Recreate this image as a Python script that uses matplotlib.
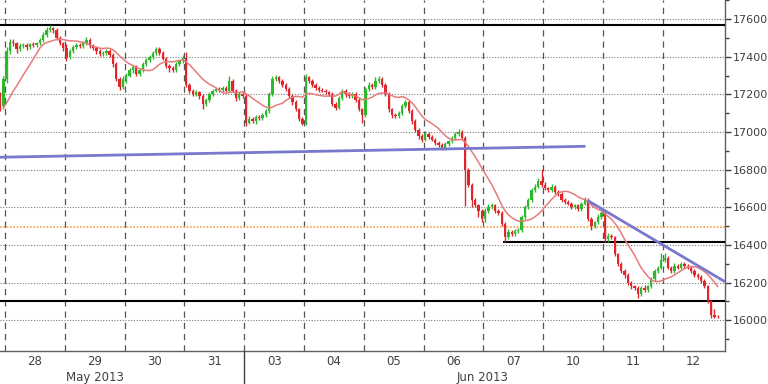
import numpy as np
import pandas as pd
import matplotlib
matplotlib.use('Agg')
import matplotlib.pyplot as plt
from matplotlib.ticker import MultipleLocator
from matplotlib.lines import Line2D

# ---------------- data ----------------
open_first = 17190
ma_warmup = [17100, 17110, 17090, 17120, 17110, 17100, 17120, 17130, 17110, 17120]

close_pre = [17140, 17280]
up_pre = [20, 15]
dn_pre = [30, 20]

close_28 = [17430, 17480, 17470, 17440, 17455, 17460, 17450, 17465, 17460, 17470, 17490, 17515, 17540, 17550, 17540, 17500, 17470, 17445]
up_28 = [20, 15, 15, 10, 15, 10, 10, 10, 15, 10, 10, 15, 15, 20, 10, 10, 10, 10]
dn_28 = [20, 15, 15, 20, 10, 10, 15, 10, 10, 10, 10, 10, 10, 10, 15, 10, 10, 15]

close_29 = [17400, 17430, 17450, 17460, 17455, 17470, 17490, 17455, 17445, 17430, 17415, 17420, 17430, 17410, 17360, 17280, 17240, 17280]
up_29 = [20, 10, 10, 10, 10, 15, 15, 10, 10, 10, 10, 10, 10, 10, 10, 10, 10, 20]
dn_29 = [25, 10, 10, 10, 10, 10, 10, 10, 10, 15, 10, 10, 10, 10, 15, 10, 15, 10]

close_30 = [17300, 17330, 17345, 17310, 17330, 17360, 17380, 17400, 17420, 17440, 17420, 17390, 17350, 17340, 17330, 17360, 17375, 17395]
up_30 = [15, 10, 10, 10, 10, 10, 15, 10, 10, 10, 10, 10, 10, 10, 10, 10, 10, 15]
dn_30 = [20, 10, 15, 15, 10, 10, 10, 10, 10, 10, 10, 10, 10, 20, 10, 10, 10, 10]

close_31 = [17250, 17220, 17200, 17210, 17190, 17150, 17170, 17200, 17220, 17230, 17225, 17235, 17220, 17270, 17220, 17180, 17200, 17190]
up_31 = [30, 10, 10, 15, 10, 10, 10, 10, 10, 10, 10, 10, 10, 25, 10, 10, 10, 10]
dn_31 = [10, 15, 10, 10, 15, 30, 10, 10, 10, 10, 10, 10, 10, 10, 10, 15, 10, 10]

close_03 = [17050, 17070, 17060, 17080, 17075, 17090, 17110, 17200, 17280, 17290, 17270, 17250, 17230, 17190, 17160, 17120, 17070, 17045]
up_03 = [10, 15, 10, 10, 10, 10, 10, 10, 15, 15, 10, 10, 10, 10, 10, 10, 10, 10]
dn_03 = [20, 10, 10, 15, 10, 10, 10, 10, 10, 10, 10, 10, 10, 10, 15, 10, 10, 10]

close_04 = [17290, 17270, 17250, 17235, 17225, 17220, 17210, 17200, 17150, 17130, 17180, 17220, 17200, 17190, 17200, 17170, 17120, 17090]
up_04 = [20, 10, 10, 10, 10, 10, 10, 10, 10, 10, 10, 10, 10, 10, 10, 10, 10, 10]
dn_04 = [10, 10, 10, 10, 10, 10, 10, 10, 10, 15, 10, 10, 15, 10, 10, 10, 10, 40]

close_05 = [17230, 17250, 17240, 17270, 17280, 17250, 17200, 17120, 17090, 17085, 17100, 17140, 17160, 17110, 17060, 17010, 16980, 16960]
up_05 = [10, 15, 10, 20, 15, 10, 10, 10, 10, 10, 10, 10, 10, 10, 10, 10, 10, 10]
dn_05 = [10, 10, 10, 10, 10, 10, 10, 15, 15, 10, 10, 10, 10, 10, 15, 10, 15, 15]

close_06 = [16990, 16975, 16960, 16940, 16930, 16915, 16935, 16950, 16970, 16990, 17000, 16970, 16800, 16720, 16640, 16610, 16580, 16540]
up_06 = [15, 10, 10, 10, 10, 10, 10, 10, 10, 10, 15, 10, 10, 10, 10, 10, 10, 10]
dn_06 = [10, 10, 10, 10, 10, 10, 10, 10, 10, 10, 10, 10, 195, 10, 40, 10, 30, 20]

close_07 = [16580, 16600, 16610, 16580, 16570, 16510, 16440, 16470, 16460, 16475, 16480, 16550, 16600, 16640, 16690, 16710, 16740, 16720]
up_07 = [15, 15, 15, 10, 10, 10, 10, 15, 10, 10, 10, 10, 10, 10, 10, 15, 15, 65]
dn_07 = [20, 10, 10, 10, 10, 10, 25, 10, 10, 10, 10, 10, 10, 10, 10, 10, 10, 10]

close_10 = [16700, 16690, 16710, 16680, 16670, 16640, 16630, 16620, 16600, 16610, 16590, 16620, 16640, 16540, 16500, 16520, 16550, 16570]
up_10 = [15, 10, 15, 10, 10, 10, 10, 10, 10, 10, 10, 10, 15, 10, 10, 10, 15, 10]
dn_10 = [10, 10, 10, 10, 10, 10, 10, 10, 10, 10, 10, 10, 10, 15, 20, 10, 10, 10]

close_11 = [16430, 16450, 16440, 16350, 16300, 16260, 16240, 16200, 16180, 16170, 16140, 16170, 16160, 16180, 16220, 16260, 16280, 16320]
up_11 = [10, 15, 10, 10, 10, 10, 10, 10, 10, 10, 10, 10, 15, 10, 10, 10, 10, 40]
dn_11 = [15, 15, 10, 10, 10, 10, 15, 10, 15, 10, 20, 10, 10, 10, 10, 10, 10, 10]

close_12 = [16330, 16280, 16260, 16290, 16280, 16300, 16290, 16280, 16260, 16240, 16230, 16210, 16180, 16100, 16030, 16020, 16015]
up_12 = [30, 10, 10, 15, 10, 10, 10, 10, 10, 10, 10, 10, 10, 10, 10, 30, 10]
dn_12 = [10, 10, 10, 10, 10, 10, 10, 10, 10, 10, 10, 10, 10, 10, 20, 10, 5]

day_labels = ['28', '29', '30', '31', '03', '04', '05', '06', '07', '10', '11', '12']
month_labels = ['May 2013', 'Jun 2013']
price_ticks = [16000, 16200, 16400, 16600, 16800, 17000, 17200, 17400, 17600]

resist_top = 17570
support_low = 16105
support_mid = 16415
orange_level = 16495
trend1 = ([-0.005, 176.2], [16866, 16924])
trend2 = ([176.8, 218.2], [16637, 16205])

# ---------------- build ----------------
closes = np.array(close_pre + close_28 + close_29 + close_30 + close_31 + close_03 + close_04 +
                  close_05 + close_06 + close_07 + close_10 + close_11 + close_12, dtype=float)
wup = np.array(up_pre + up_28 + up_29 + up_30 + up_31 + up_03 + up_04 + up_05 + up_06 +
               up_07 + up_10 + up_11 + up_12, dtype=float)
wdn = np.array(dn_pre + dn_28 + dn_29 + dn_30 + dn_31 + dn_03 + dn_04 + dn_05 + dn_06 +
               dn_07 + dn_10 + dn_11 + dn_12, dtype=float)
opens = np.concatenate([[open_first], closes[:-1]])
highs = np.maximum(opens, closes) + wup
lows = np.minimum(opens, closes) - wdn
x = np.arange(len(closes))
rising = closes >= opens
GREEN = '#2db82d'
RED = '#e0262a'
colors = np.where(rising, GREEN, RED)

ma = pd.Series(ma_warmup + list(closes)).rolling(12).mean().values[len(ma_warmup):]

per_day = 18
bounds = [1.5 + per_day * k for k in range(12)]
centers = [b + per_day / 2 for b in bounds]

fig = plt.figure(figsize=(7.68, 3.84), dpi=100)
ax = fig.add_axes([0, 1 - 351 / 384, 725 / 768, 351 / 384])
ax.set_xlim(-0.005, 218.2)
ax.set_ylim(15837, 17701)

# grid
for p in price_ticks:
    ax.axhline(p, color='#7a7a7a', lw=0.8, ls=(0, (1, 1.5)), zorder=1)
for b in bounds:
    ax.axvline(b, color='#555555', lw=0.9, ls=(0, (5, 4)), zorder=1)

# levels
ax.axhline(orange_level, color='#f5a04a', lw=1.2, ls=(0, (1, 1)), zorder=2)
ax.axhline(resist_top, color='black', lw=1.5, zorder=3)
ax.axhline(support_low, color='black', lw=1.5, zorder=3)
ax.hlines(support_mid, 151.5, 218.2, color='black', lw=1.5, zorder=3)

# candles
ax.vlines(x, lows, highs, colors=colors, lw=1, zorder=4)
ax.bar(x, np.maximum(np.abs(closes - opens), 5), bottom=np.minimum(opens, closes),
       width=0.7, color=colors, linewidth=0, zorder=5)

# moving average
ax.plot(x, ma, color='#e77a7a', lw=1.1, zorder=6)

# trend lines
ax.plot(*trend1, color='#7878cc', lw=2, zorder=7, solid_capstyle='butt')
ax.plot(*trend2, color='#7878cc', lw=2, zorder=7, solid_capstyle='butt')

# axes styling
for s in ['left', 'top']:
    ax.spines[s].set_visible(False)
for s in ['right', 'bottom']:
    ax.spines[s].set_color('#606060')
    ax.spines[s].set_linewidth(1)
ax.yaxis.tick_right()
ax.set_yticks(price_ticks)
ax.set_yticklabels([str(p) for p in price_ticks])
ax.yaxis.set_minor_locator(MultipleLocator(100))
ax.tick_params(axis='y', which='major', direction='out', length=4, width=1,
               color='#404040', labelsize=8, labelcolor='#404040', pad=1.5)
ax.tick_params(axis='y', which='minor', direction='out', length=3, width=1, color='#404040')
ax.set_xticks(centers)
ax.set_xticklabels(day_labels)
ax.tick_params(axis='x', length=0, labelsize=8.5, labelcolor='#404040', pad=3)

fig.text(95 / 768, 1 - 377 / 384, month_labels[0], ha='center', va='center', fontsize=8.5, color='#404040')
fig.text(483 / 768, 1 - 377 / 384, month_labels[1], ha='center', va='center', fontsize=8.5, color='#404040')
fig.add_artist(Line2D([244 / 768, 244 / 768], [0, 33 / 384], color='#404040', lw=1))

fig.savefig('out.png', dpi=100)
